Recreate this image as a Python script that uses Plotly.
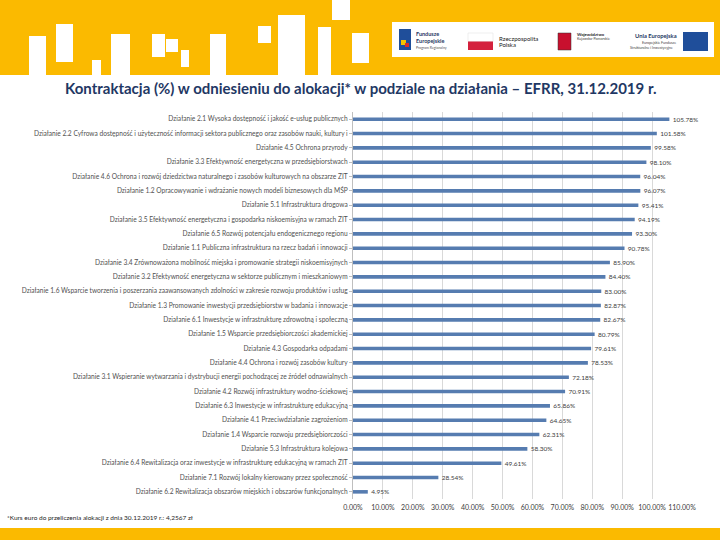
import plotly.graph_objects as go

categories = [
    "Działanie 2.1 Wysoka dostępność i jakość e-usług publicznych",
    "Działanie 2.2 Cyfrowa dostępność i użyteczność informacji sektora publicznego oraz zasobów nauki, kultury i",
    "Działanie 4.5 Ochrona przyrody",
    "Działanie 3.3 Efektywność energetyczna w przedsiębiorstwach",
    "Działanie 4.6 Ochrona i rozwój dziedzictwa naturalnego i zasobów kulturowych na obszarze ZIT",
    "Działanie 1.2 Opracowywanie i wdrażanie nowych modeli biznesowych dla MŚP",
    "Działanie 5.1 Infrastruktura drogowa",
    "Działanie 3.5 Efektywność energetyczna i gospodarka niskoemisyjna w ramach ZIT",
    "Działanie 6.5 Rozwój potencjału endogenicznego regionu",
    "Działanie 1.1 Publiczna infrastruktura na rzecz badań i innowacji",
    "Działanie 3.4 Zrównoważona mobilność miejska i promowanie strategii niskoemisyjnych",
    "Działanie 3.2 Efektywność energetyczna w sektorze publicznym i mieszkaniowym",
    "Działanie 1.6 Wsparcie tworzenia i poszerzania zaawansowanych zdolności w zakresie rozwoju produktów i usług",
    "Działanie 1.3 Promowanie inwestycji przedsiębiorstw w badania i innowacje",
    "Działanie 6.1 Inwestycje w infrastrukturę zdrowotną i społeczną",
    "Działanie 1.5 Wsparcie przedsiębiorczości akademickiej",
    "Działanie 4.3 Gospodarka odpadami",
    "Działanie 4.4 Ochrona i rozwój zasobów kultury",
    "Działanie 3.1 Wspieranie wytwarzania i dystrybucji energii pochodzącej ze źródeł odnawialnych",
    "Działanie 4.2 Rozwój infrastruktury wodno-ściekowej",
    "Działanie 6.3 Inwestycje w infrastrukturę edukacyjną",
    "Działanie 4.1 Przeciwdziałanie zagrożeniom",
    "Działanie 1.4 Wsparcie rozwoju przedsiębiorczości",
    "Działanie 5.3 Infrastruktura kolejowa",
    "Działanie 6.4 Rewitalizacja oraz inwestycje w infrastrukturę edukacyjną w ramach ZIT",
    "Działanie 7.1 Rozwój lokalny kierowany przez społeczność",
    "Działanie 6.2 Rewitalizacja obszarów miejskich i obszarów funkcjonalnych",
]
values = [105.78, 101.58, 99.58, 98.10, 96.04, 96.07, 95.41, 94.19, 93.30, 90.78,
          85.90, 84.40, 83.00, 82.87, 82.67, 80.79, 79.61, 78.53, 72.18, 70.91,
          65.86, 64.65, 62.31, 58.30, 49.61, 28.54, 4.95]
x_ticks = [0, 10, 20, 30, 40, 50, 60, 70, 80, 90, 100, 110]
x_tick_labels = [f"{v:.2f}%" for v in x_ticks]

title_text = "Kontraktacja (%) w odniesieniu do alokacji* w podziale na działania – EFRR, 31.12.2019 r."
footnote = "*Kurs euro do przeliczenia alokacji z dnia 30.12.2019 r.: 4,2567 zł"

W, H = 720, 540
def px(x):
    return x / W
def py(y):
    return 1 - y / H

YELLOW = "#FBBA00"
BAR = "#567CB0"

fig = go.Figure()
fig.add_trace(go.Bar(
    x=values, y=categories, orientation="h",
    marker=dict(color=BAR, line=dict(width=0)),
    width=0.25,
    text=values, texttemplate="  %{x:.2f}%", textposition="outside",
    constraintext="none",
    textfont=dict(family="Lato", size=6.5, color="#404040"),
    cliponaxis=False, hoverinfo="skip",
))

shapes = []
shapes.append(dict(type="rect", xref="paper", yref="paper", x0=0, x1=1, y0=py(75), y1=1,
                   fillcolor=YELLOW, line=dict(width=0), layer="below"))
shapes.append(dict(type="rect", xref="paper", yref="paper", x0=0, x1=1, y0=0, y1=py(528),
                   fillcolor=YELLOW, line=dict(width=0), layer="below"))
blocks = [(29, 36, 46, 75), (56, 24, 73, 62), (92, 60, 101, 75), (111, 34, 130, 75),
          (152, 34, 165, 57), (166, 39, 178, 52), (181, 50, 189, 67), (210, 34, 226, 75),
          (258, 26, 271, 43), (278, 15, 305, 75), (318, 27, 331, 75), (332, 0, 350, 20),
          (352, 33, 369, 63)]
for (x0, y0, x1, y1) in blocks:
    shapes.append(dict(type="rect", xref="paper", yref="paper", x0=px(x0), x1=px(x1),
                       y0=py(y1), y1=py(y0), fillcolor="white", line=dict(width=0), layer="below"))
shapes.append(dict(type="rect", xref="paper", yref="paper", x0=px(392), x1=px(714), y0=py(57), y1=py(22),
                   fillcolor="white", line=dict(width=0), layer="below"))
shapes.append(dict(type="rect", xref="paper", yref="paper", x0=px(399), x1=px(411), y0=py(50), y1=py(29),
                   fillcolor="#1F4E9A", line=dict(width=0)))
shapes.append(dict(type="rect", xref="paper", yref="paper", x0=px(401), x1=px(406), y0=py(45), y1=py(40),
                   fillcolor="#F4C300", line=dict(width=0)))
shapes.append(dict(type="rect", xref="paper", yref="paper", x0=px(405), x1=px(409), y0=py(47), y1=py(43),
                   fillcolor="#D62B2B", line=dict(width=0)))
shapes.append(dict(type="rect", xref="paper", yref="paper", x0=px(468), x1=px(493), y0=py(41.5), y1=py(33),
                   fillcolor="white", line=dict(width=0.5, color="#DDDDDD")))
shapes.append(dict(type="rect", xref="paper", yref="paper", x0=px(468), x1=px(493), y0=py(50), y1=py(41.5),
                   fillcolor="#D4213D", line=dict(width=0)))
shapes.append(dict(type="rect", xref="paper", yref="paper", x0=px(558), x1=px(571), y0=py(50), y1=py(33),
                   fillcolor="#C8102E", line=dict(width=0.5, color="#333333")))
shapes.append(dict(type="rect", xref="paper", yref="paper", x0=px(683), x1=px(708), y0=py(51), y1=py(32),
                   fillcolor="#1F4E9A", line=dict(width=0)))

annotations = []
annotations.append(dict(text=title_text, x=0.5, y=py(88), xref="paper", yref="paper",
                        showarrow=False, xanchor="center", yanchor="middle",
                        font=dict(family="Lato", size=15, color="#1F3864", weight="bold")))
annotations.append(dict(text=footnote, x=px(5), y=py(517), xref="paper", yref="paper",
                        showarrow=False, xanchor="left", yanchor="middle",
                        font=dict(family="Lato", size=6.5, color="#262626")))

def small(text, x, y, size=4.5, color="#333333", bold=False):
    annotations.append(dict(text=text, x=px(x), y=py(y), xref="paper", yref="paper",
                            showarrow=False, xanchor="left", yanchor="middle",
                            font=dict(family="Lato", size=size, color=color,
                                      weight="bold" if bold else "normal")))

small("Fundusze", 414, 34, 5.5, "#1F3864", True)
small("Europejskie", 414, 41, 5.5, "#1F3864", True)
small("Program Regionalny", 414, 48, 3.5, "#555555")
small("Rzeczpospolita", 497, 38, 6, "#222222")
small("Polska", 497, 44.5, 6, "#222222")
small("Województwo", 575, 34, 4.2, "#222222", True)
small("Kujawsko-Pomorskie", 575, 39, 3.6, "#444444")
small("Unia Europejska", 633, 36, 5.8, "#1F3864", True)
small("Europejskie Fundusze", 640, 43, 3.6, "#444444")
small("Strukturalne i Inwestycyjne", 628, 47.5, 3.6, "#444444")

fig.update_layout(
    width=W, height=H,
    margin=dict(l=0, r=0, t=0, b=0),
    paper_bgcolor="white", plot_bgcolor="white",
    showlegend=False,
    shapes=shapes, annotations=annotations,
    xaxis=dict(domain=[px(353), px(682)], range=[0, 110], tickmode="array",
               tickvals=x_ticks, ticktext=x_tick_labels, tickangle=0,
               showgrid=True, gridcolor="#D9D9D9", gridwidth=1,
               zeroline=False, showline=False, ticks="",
               ticklabelstandoff=3,
               tickfont=dict(family="Lato", size=7, color="#404040"),
               automargin=False, anchor="y"),
    yaxis=dict(domain=[py(499), py(112)], categoryorder="array", categoryarray=categories,
               autorange="reversed", showgrid=False, zeroline=False,
               showline=True, linecolor="#BFBFBF", linewidth=1,
               ticks="outside", ticklen=3, tickcolor="#BFBFBF",
               tickfont=dict(family="Lato", size=6.6, color="#505050"),
               automargin=False),
)

fig.write_html("out.html", config={"displayModeBar": False},
               post_script="document.body.style.margin='0';document.body.style.overflow='hidden';")
